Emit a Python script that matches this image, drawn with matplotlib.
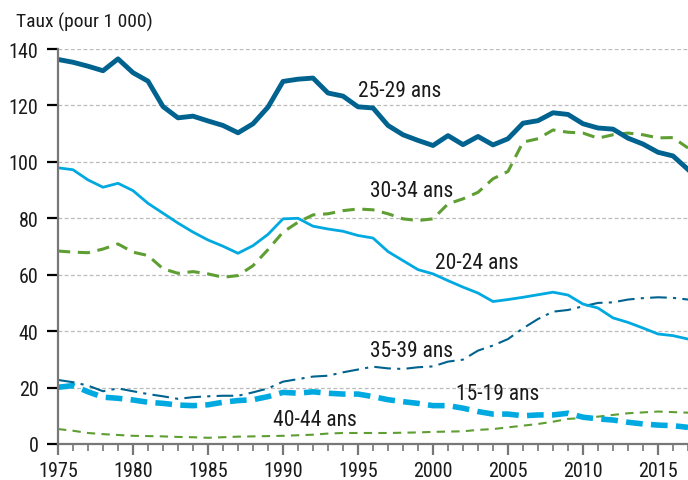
import matplotlib
matplotlib.use("Agg")
import matplotlib.pyplot as plt
from matplotlib.ticker import MultipleLocator

plt.rcParams['font.family'] = ['Roboto Condensed', 'DejaVu Sans']

years = list(range(1975, 2018))

a25_29 = [136.3, 135.3, 133.9, 132.3, 136.5, 131.6, 128.6, 119.6, 115.6, 116.2,
          114.5, 112.9, 110.3, 113.5, 119.4, 128.5, 129.3, 129.7, 124.4, 123.3,
          119.5, 119.1, 112.9, 109.6, 107.6, 105.8, 109.3, 106.1, 109.0, 106.0,
          108.2, 113.7, 114.6, 117.4, 116.8, 113.5, 112.0, 111.6, 108.4, 106.3,
          103.4, 102.1, 97.3]
a30_34 = [68.4, 68.0, 67.8, 69.1, 70.9, 68.0, 66.8, 62.1, 60.5, 61.1,
          60.3, 59.1, 59.7, 63.2, 68.9, 75.1, 78.6, 81.2, 81.6, 82.7,
          83.3, 83.0, 81.6, 79.8, 79.2, 79.8, 85.1, 86.9, 89.2, 94.0,
          96.6, 107.0, 108.2, 111.3, 110.5, 110.2, 108.4, 109.6, 110.2, 109.6,
          108.5, 108.6, 104.9]
a20_24 = [97.9, 97.2, 93.6, 91.0, 92.4, 89.8, 85.3, 81.8, 78.3, 75.1,
          72.3, 70.1, 67.6, 70.3, 74.3, 79.8, 80.0, 77.2, 76.2, 75.4,
          73.9, 73.0, 68.2, 65.0, 61.8, 60.3, 57.9, 55.6, 53.5, 50.5,
          51.2, 52.0, 52.9, 53.8, 52.8, 49.6, 48.2, 44.7, 43.1, 41.1,
          39.0, 38.4, 37.2]
a35_39 = [22.7, 21.9, 20.7, 18.7, 19.7, 18.7, 17.7, 16.9, 16.0, 16.6,
          16.9, 17.1, 17.1, 18.3, 19.7, 22.1, 23.0, 23.9, 24.2, 25.4,
          26.4, 27.4, 26.8, 26.6, 27.2, 27.5, 29.2, 29.9, 33.1, 34.9,
          37.2, 41.0, 44.3, 46.9, 47.5, 48.8, 50.0, 50.2, 51.2, 51.7,
          52.0, 51.8, 51.2]
a15_19 = [20.1, 20.7, 18.5, 16.6, 16.2, 15.6, 14.8, 14.4, 13.8, 13.6,
          13.9, 14.8, 15.4, 15.7, 16.8, 18.3, 18.0, 18.5, 18.0, 17.7,
          17.7, 16.8, 15.7, 15.0, 14.4, 13.6, 13.6, 12.7, 11.5, 10.6,
          10.6, 10.0, 10.3, 10.3, 10.9, 9.5, 8.9, 8.5, 7.7, 7.1,
          6.7, 6.5, 5.9]
a40_44 = [5.3, 4.7, 3.9, 3.5, 3.2, 2.9, 2.8, 2.7, 2.5, 2.4,
          2.2, 2.4, 2.6, 2.7, 2.8, 2.9, 3.1, 3.3, 3.7, 3.9,
          3.9, 3.9, 3.9, 4.0, 4.1, 4.3, 4.4, 4.5, 5.0, 5.3,
          5.9, 6.5, 7.1, 7.9, 8.9, 9.2, 9.7, 10.3, 10.9, 11.2,
          11.5, 11.3, 11.1]

dark_blue = '#00628f'
light_blue = '#00a9e0'
green = '#5e9e32'
text_col = '#1a1a1a'

fig = plt.figure(figsize=(6.88, 4.81), dpi=100)
ax = fig.add_axes([58/688, 1-445/481, 1-58/688, (445-50)/481])

ax.plot(years, a40_44, color=green, lw=1.5, ls=(0, (4, 3)))
ax.plot(years, a15_19, color=light_blue, lw=4, ls=(0, (3, 1.5)))
ax.plot(years, a35_39, color=dark_blue, lw=1.5, ls=(0, (8, 3, 1.5, 3)))
ax.plot(years, a20_24, color=light_blue, lw=2)
ax.plot(years, a30_34, color=green, lw=2.2, ls=(0, (4, 2.5)))
ax.plot(years, a25_29, color=dark_blue, lw=3.5)

ax.set_xlim(1975, 2017)
ax.set_ylim(0, 140)
ax.yaxis.set_major_locator(MultipleLocator(20))
ax.xaxis.set_major_locator(MultipleLocator(5))
ax.xaxis.set_minor_locator(MultipleLocator(1))
for y in range(20, 141, 20):
    ax.axhline(y, color='#bbbbbb', lw=0.9, ls=(0, (3, 2)), zorder=0)

for s in ['top', 'right']:
    ax.spines[s].set_visible(False)
for s in ['left', 'bottom']:
    ax.spines[s].set_color('#777777')
    ax.spines[s].set_linewidth(1.6)

ax.tick_params(axis='y', which='major', length=8, width=1.6, color='black',
               labelsize=14.5, pad=6, labelcolor=text_col)
ax.tick_params(axis='x', which='major', length=8, width=1.6, color='#777777',
               labelsize=14.5, pad=4, labelcolor=text_col)
ax.tick_params(axis='x', which='minor', length=5, width=1.2, color='#777777')

lab = dict(fontsize=15.5, color=text_col, ha='left', va='center')
ax.text(1995.0, 125.2, '25-29 ans', **lab)
ax.text(1995.8, 90.0, '30-34 ans', **lab)
ax.text(2000.1, 64.2, '20-24 ans', **lab)
ax.text(1995.8, 33.2, '35-39 ans', **lab)
ax.text(2001.5, 17.8, '15-19 ans', **lab)
ax.text(1989.3, 8.8, '40-44 ans', **lab)

fig.text(16/688, 1-22/481, 'Taux (pour 1 000)', fontsize=14, color=text_col,
         ha='left', va='center')

fig.savefig('out.png', dpi=100)
